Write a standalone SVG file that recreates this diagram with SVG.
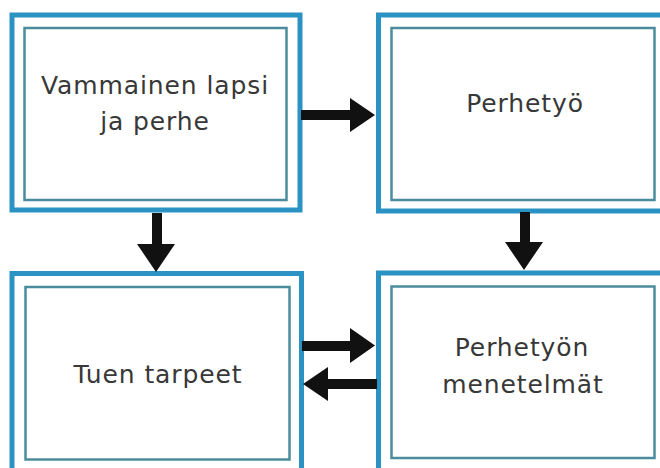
<svg xmlns="http://www.w3.org/2000/svg" width="660" height="468" viewBox="0 0 660 468">
<style>
.outer{fill:#ffffff;stroke:#2b93c3;stroke-width:5}
.inner{fill:none;stroke:#4a8c9e;stroke-width:2.5}
.lbl{font-family:"DejaVu Sans","Liberation Sans",sans-serif;font-size:25px;fill:#383838;text-anchor:middle;letter-spacing:0.9px}
.arr{fill:#111111}
</style>
<rect width="660" height="468" fill="#ffffff"/>
<g id="node-vammainen">
<rect class="outer" x="12" y="15" width="288" height="195"/>
<rect class="inner" x="24.5" y="28" width="262" height="172"/>
<text class="lbl" x="155" y="94">Vammainen lapsi</text>
<text class="lbl" x="155" y="130">ja perhe</text>
</g>
<g id="node-perhetyo">
<rect class="outer" x="378.5" y="15" width="284" height="196"/>
<rect class="inner" x="391.5" y="28" width="263" height="172"/>
<text class="lbl" x="525" y="112">Perhetyö</text>
</g>
<g id="node-tuen">
<rect class="outer" x="12" y="273.5" width="289.5" height="200"/>
<rect class="inner" x="25.5" y="287" width="264" height="172.5"/>
<text class="lbl" x="158" y="383">Tuen tarpeet</text>
</g>
<g id="node-menetelmat">
<rect class="outer" x="378.5" y="273" width="284" height="200"/>
<rect class="inner" x="391.5" y="286.5" width="263" height="171.5"/>
<text class="lbl" x="522" y="356">Perhetyön</text>
<text class="lbl" x="523" y="393">menetelmät</text>
</g>
<g id="connectors">
<polygon class="arr" points="301,110 350,110 350,98 375,115 350,132 350,120 301,120"/>
<polygon class="arr" points="152,213 162,213 162,244 175,244 156,272 137,244 152,244"/>
<polygon class="arr" points="520,212 530,212 530,242 543,242 524,270 505,242 520,242"/>
<polygon class="arr" points="302,341 350,341 350,328 375,345.5 350,363 350,351 302,351"/>
<polygon class="arr" points="377,379 328,379 328,367 303,384 328,401 328,389 377,389"/>
</g>
</svg>
